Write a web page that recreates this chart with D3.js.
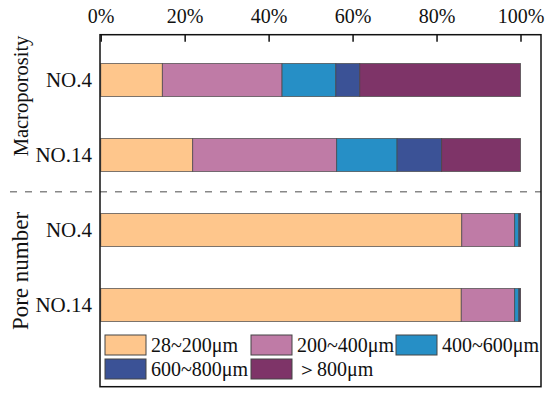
<!DOCTYPE html>
<html>
  <head>
    <script src="https://d3js.org/d3.v7.min.js"></script>
    <style>
      body { margin: 0; background: #fff; }
      svg { font-family: "Liberation Serif", "Times New Roman", serif; }
    </style>
  </head>
  <body>
    <svg id="chart" width="550" height="398"></svg>
    <script>
      // rows, top to bottom
      const rowKeys = ["macro4", "macro14", "pore4", "pore14"];
      const rowLabels = ["NO.4", "NO.14", "NO.4", "NO.14"];
      const groupLabels = ["Macroporosity", "Pore number"];

      // percentage of each pore-size class, one value per row
      const classes = ["28~200μm", "200~400μm", "400~600μm", "600~800μm", "＞800μm"];
      const c28_200 = [14.7, 21.9, 86.0, 85.9];
      const c200_400 = [28.5, 34.3, 12.6, 12.7];
      const c400_600 = [12.8, 14.4, 1.0, 1.0];
      const c600_800 = [5.7, 10.6, 0.3, 0.3];
      const c800 = [38.3, 18.8, 0.1, 0.1];

      const xTicks = [0, 20, 40, 60, 80, 100];
      const colors = ["#fec68c", "#bf7ba6", "#268fc6", "#3b5296", "#7e3468"];

      let svg = d3.select("#chart");

      const table = rowKeys.map((k, i) => ({
        key: k,
        [classes[0]]: c28_200[i],
        [classes[1]]: c200_400[i],
        [classes[2]]: c400_600[i],
        [classes[3]]: c600_800[i],
        [classes[4]]: c800[i]
      }));
      const stacked = d3.stack().keys(classes)(table);

      const frame = {left: 100, right: 541, top: 34.7, bottom: 386.7};

      let xScale = d3.scaleLinear().domain([0, 100]).range([100.7, 520.5]);
      let yScale = d3.scaleBand().domain(rowKeys).range([42.5, 342.5])
        .paddingInner(0.56).paddingOuter(0.28);
      let colorScale = d3.scaleOrdinal().domain(classes).range(colors);

      // bars
      svg.append("g").selectAll("g").data(stacked)
        .join("g")
        .attr("fill", d => colorScale(d.key))
        .selectAll("rect").data(d => d)
        .join("rect")
        .attr("x", d => xScale(d[0]))
        .attr("width", d => xScale(d[1]) - xScale(d[0]))
        .attr("y", d => yScale(d.data.key))
        .attr("height", yScale.bandwidth())
        .attr("stroke", "#444")
        .attr("stroke-opacity", 0.7)
        .attr("stroke-width", 1);

      // separator between the two groups
      svg.append("line")
        .attr("x1", 10).attr("x2", frame.right)
        .attr("y1", 191.7).attr("y2", 191.7)
        .attr("stroke", "#888")
        .attr("stroke-width", 1.5)
        .attr("stroke-dasharray", "7,8");

      // frame
      svg.append("rect")
        .attr("x", frame.left).attr("y", frame.top)
        .attr("width", frame.right - frame.left)
        .attr("height", frame.bottom - frame.top)
        .attr("fill", "none")
        .attr("stroke", "#111")
        .attr("stroke-width", 1.5);

      // top axis
      let xAxis = svg.append("g")
        .attr("transform", `translate(0,${frame.top})`)
        .call(d3.axisTop(xScale).tickValues(xTicks)
          .tickFormat(d => d + "%").tickSize(-7).tickPadding(12));
      xAxis.select(".domain").remove();
      xAxis.selectAll("line").attr("stroke", "#111").attr("stroke-width", 1.5);
      xAxis.selectAll("text")
        .attr("font-family", "Liberation Serif")
        .attr("font-size", 20)
        .attr("fill", "#111");

      // row labels
      svg.append("g").selectAll("text").data(rowKeys)
        .join("text")
        .attr("x", 92)
        .attr("y", d => yScale(d) + yScale.bandwidth() / 2)
        .attr("dy", "0.35em")
        .attr("text-anchor", "end")
        .attr("font-size", 21)
        .attr("fill", "#111")
        .text((d, i) => rowLabels[i]);

      // group titles
      const groupCenters = [96, 271];
      const groupSizes = [20.5, 23];
      svg.append("g").selectAll("text").data(groupLabels)
        .join("text")
        .attr("transform", (d, i) => `translate(28,${groupCenters[i]}) rotate(-90)`)
        .attr("text-anchor", "middle")
        .attr("font-size", (d, i) => groupSizes[i])
        .attr("fill", "#111")
        .text(d => d);

      // legend
      const legendPos = [[105, 335], [251, 335], [396, 335], [105, 359], [251, 359]];
      let legend = svg.append("g").selectAll("g").data(classes)
        .join("g")
        .attr("transform", (d, i) => `translate(${legendPos[i][0]},${legendPos[i][1]})`);
      legend.append("rect")
        .attr("width", 41).attr("height", 20)
        .attr("fill", d => colorScale(d))
        .attr("stroke", "#444")
        .attr("stroke-width", 1);
      legend.append("text")
        .attr("x", 46).attr("y", 17)
        .attr("font-size", 20)
        .attr("fill", "#111")
        .text(d => d);
    </script>
  </body>
</html>
